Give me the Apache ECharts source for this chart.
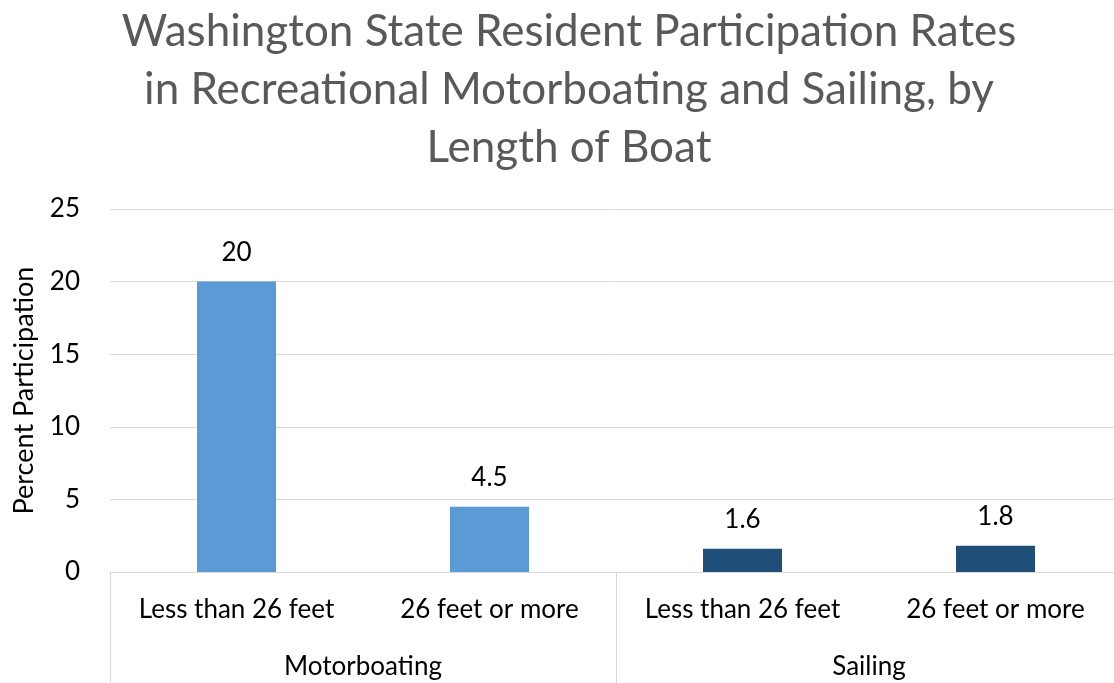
<!DOCTYPE html>
<html>
<head>
<meta charset="utf-8">
<script src="https://cdn.jsdelivr.net/npm/echarts@6/dist/echarts.min.js"></script>
<style>html,body{margin:0;padding:0;background:#fff;}#c{width:1114px;height:683px;}</style>
</head>
<body>
<div id="c"></div>
<script>
const titleText = 'Washington State Resident Participation Rates\nin Recreational Motorboating and Sailing, by\nLength of Boat';
const subCategories = ['Less than 26 feet', '26 feet or more', 'Less than 26 feet', '26 feet or more'];
const groups = ['Motorboating', 'Sailing'];
const groupOfCategory = [0, 0, 1, 1];
const values = [20, 4.5, 1.6, 1.8];
const groupColors = ['#5B9BD5', '#1F4E79'];
const yTicks = { min: 0, max: 25, interval: 5 };

const FONT = 'Lato, "Open Sans", sans-serif';
const chart = echarts.init(document.getElementById('c'), null, { renderer: 'canvas' });
chart.setOption({
  animation: false,
  backgroundColor: '#fff',
  title: {
    text: titleText,
    left: 564, top: -2, textAlign: 'center',
    textStyle: { fontFamily: FONT, fontSize: 44, fontWeight: 'normal', color: '#595959', lineHeight: 58 }
  },
  grid: { left: 110, right: -8, top: 209, bottom: 111, containLabel: false, outerBoundsMode: 'none' },
  xAxis: [
    {
      type: 'category', data: subCategories, position: 'bottom',
      axisLine: { show: true, lineStyle: { color: '#d9d9d9', width: 1 } },
      axisTick: { show: false },
      axisLabel: { interval: 0, margin: 25, fontFamily: FONT, fontSize: 26, color: '#000' }
    },
    {
      type: 'category', data: groups, position: 'bottom', offset: 0,
      axisLine: { show: false },
      axisTick: { show: true, interval: 0, length: 115, lineStyle: { color: '#d9d9d9', width: 1 } },
      axisLabel: { interval: 0, margin: 82, fontFamily: FONT, fontSize: 26, color: '#000' }
    }
  ],
  yAxis: {
    type: 'value', min: yTicks.min, max: yTicks.max, interval: yTicks.interval,
    name: 'Percent Participation', nameLocation: 'middle', nameRotate: 90, nameGap: 72,
    nameTextStyle: { fontFamily: FONT, fontSize: 27, color: '#000' },
    axisLine: { show: false }, axisTick: { show: false },
    axisLabel: { margin: 30, fontFamily: FONT, fontSize: 26, color: '#000' },
    splitLine: { lineStyle: { color: '#d9d9d9', width: 1 } }
  },
  series: [{
    type: 'bar', xAxisIndex: 0, barWidth: 79,
    data: values.map((v, i) => ({ value: v, itemStyle: { color: groupColors[groupOfCategory[i]] } })),
    label: { show: true, position: 'top', distance: 16, fontFamily: FONT, fontSize: 26, color: '#000' }
  }]
});
</script>
</body>
</html>
